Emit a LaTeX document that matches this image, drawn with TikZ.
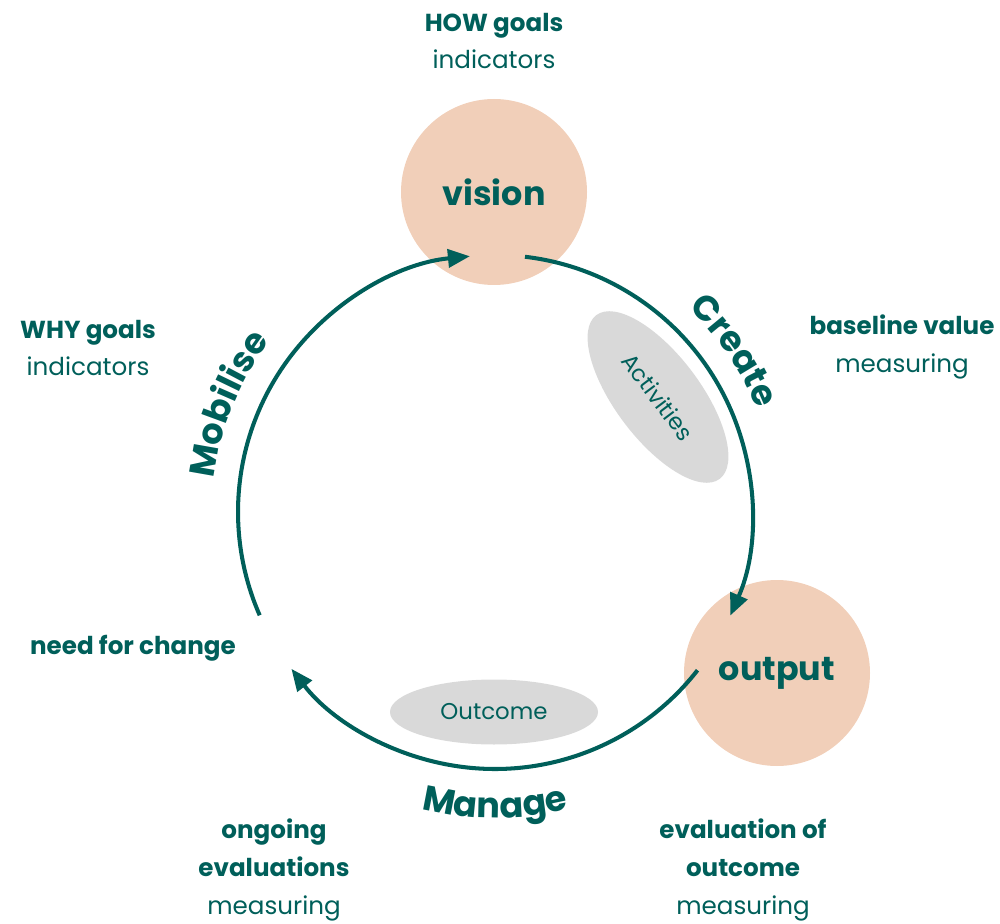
\documentclass[tikz,border=0pt]{standalone}
\usepackage{fontspec}
\setmainfont{Poppins}
\usetikzlibrary{arrows.meta, decorations.text, shapes.geometric}

\definecolor{deepteal}{HTML}{005F5A}
\definecolor{peach}{HTML}{F1CFB9}
\definecolor{softgray}{HTML}{D9D9D9}
\newcommand{\phasefont}{\fontsize{20}{24}\selectfont\bfseries}

\begin{document}
\begin{tikzpicture}[
  bubble/.style={circle, fill=peach, minimum size=3.72cm, inner sep=0pt, text=deepteal, font=\fontsize{19}{24}\selectfont\bfseries},
  tag/.style={ellipse, fill=softgray, inner sep=0pt, text=deepteal, font=\fontsize{13}{16}\selectfont},
  note/.style={align=center, text=deepteal, font=\fontsize{14}{21.6}\selectfont},
  cyc/.style={draw=deepteal, line width=2.3pt, -{Triangle[length=0.44cm,width=0.36cm]}},
]
\useasboundingbox (0,0) rectangle (20,18.46);
\coordinate (hub) at (9.9,8.22); % centre of the cycle

% circles and tags
\node[bubble] (vision) at (9.88,14.62) {vision};
\node[bubble] (output) at (15.54,5.0) {output};
\node[tag, minimum width=4.1cm, minimum height=1.7cm, rotate=-53] (activities) at (13.16,10.52) {Activities};
\node[tag, minimum width=4.16cm, minimum height=1.3cm] (outcome) at (9.88,4.22) {Outcome};

% cycle arrows
\draw[cyc] ([shift={(83.3:5.14)}]hub) arc[start angle=83.3, end angle=-23.8, radius=5.14];
\draw[cyc] ([shift={(-38:5.14)}]hub) arc[start angle=-38, end angle=-142.4, radius=5.14];
\draw[cyc] ([shift={(203.7:5.14)}]hub) arc[start angle=203.7, end angle=95.6, radius=5.14];

% phase names
\path[decorate, decoration={text along path, text align=center, text={|\color{deepteal}\phasefont|Create}}]
  ([shift={(60:5.62)}]hub) arc[start angle=60, end angle=8, radius=5.62];
\path[decorate, decoration={text along path, text align=center, text={|\color{deepteal}\phasefont|Mobilise}}]
  ([shift={(190:5.65)}]hub) arc[start angle=190, end angle=126, radius=5.65];
\path[decorate, decoration={text along path, text align=center, text={|\color{deepteal}\phasefont|Manage}}]
  ([shift={(-135:6.12)}]hub) arc[start angle=-135, end angle=-45, radius=6.12];

% notes
\node[note] (howtxt) at (9.88,17.64) {{\bfseries HOW goals}\\indicators};
\node[note] (whytxt) at (1.76,11.5) {{\bfseries WHY goals}\\indicators};
\node[note] (basetxt) at (18.04,11.52) {{\bfseries baseline value}\\measuring};
\node[note, font=\fontsize{14}{21.6}\selectfont\bfseries] (needtxt) at (2.66,5.5) {need for change};
\node[note] (ongoingtxt) at (5.48,1.06) {{\bfseries ongoing}\\{\bfseries evaluations}\\measuring};
\node[note] (evaltxt) at (14.86,1.06) {{\bfseries evaluation of}\\{\bfseries outcome}\\measuring};
\end{tikzpicture}
\end{document}
